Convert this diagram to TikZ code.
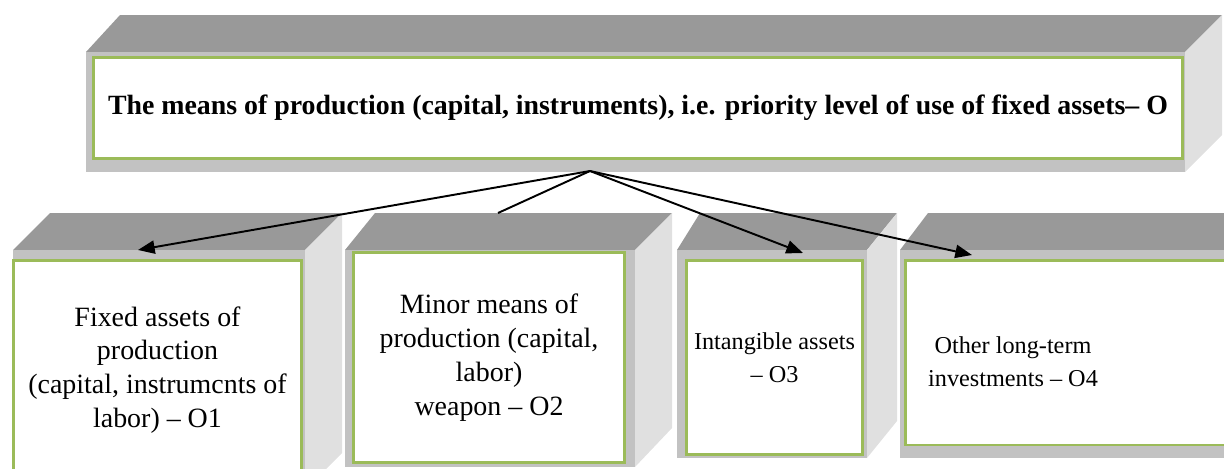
\documentclass[tikz,border=0pt]{standalone}
\usepackage{fontspec}
\setmainfont{Liberation Serif}
\usetikzlibrary{arrows.meta}
\definecolor{topgray}{RGB}{153,153,153}
\definecolor{sidegray}{RGB}{224,224,224}
\definecolor{frontgray}{RGB}{194,194,194}
\definecolor{boxgreen}{RGB}{155,187,89}
\tikzset{
  face/.style={fill=frontgray,draw=none,inner sep=0pt},
  greenbox/.style={draw=boxgreen,line width=1.7pt,fill=white,inner sep=0pt,align=center},
  lowtext/.style={align=center,font=\fontsize{15.9}{19.3}\selectfont},
  smalltext/.style={align=center,font=\fontsize{13.8}{18.8}\selectfont},
  link/.style={line width=1.1pt,-{Triangle[length=9.5pt,width=7.5pt]}}
}

\begin{document}
\begin{tikzpicture}[x=0.02cm,y=-0.02cm]
	\useasboundingbox (0,0) rectangle (1224,468);
	% top block
	\fill[topgray](86,52)--(120,15)--(1222,15)--(1185,52)--cycle;
	\fill[sidegray](1185,52)--(1222,15)--(1222,135)--(1185,172)--cycle;
	\node[face,minimum width=21.98cm,minimum height=2.4cm] (f0) at (635.5,112) {};
	\node[greenbox,minimum width=21.8cm,minimum height=2.02cm,font=\fontsize{15.85}{18}\selectfont\bfseries] (o) at (638,108)
		{The means of production (capital, instruments), i.e. priority level of use of fixed assets-- O};
	
	% lower blocks
	\fill[topgray](13,250)--(50,213)--(342,213)--(305,250)--cycle;
	\fill[sidegray](305,250)--(342,213)--(342,453)--(305,490)--cycle;
	\node[face,minimum width=5.84cm,minimum height=4.8cm] (f1) at (159,370) {};
	\node[greenbox,lowtext,minimum width=5.78cm,minimum height=4.4cm] (o1) at (157.5,370)
		{Fixed assets of\\production\\(capital, instrumcnts of\\labor) -- O1};
	
	\fill[topgray](345,250)--(375,213)--(672,213)--(635,250)--cycle;
	\fill[sidegray](635,250)--(672,213)--(672,428)--(635,467)--cycle;
	\node[face,minimum width=5.8cm,minimum height=4.34cm] (f2) at (490,358.5) {};
	\node[greenbox,lowtext,minimum width=5.44cm,minimum height=4.22cm] (o2) at (489,357.5)
		{Minor means of\\production (capital,\\labor)\\weapon -- O2};
	
	\fill[topgray](677,250)--(700,213)--(897,213)--(867,250)--cycle;
	\fill[sidegray](867,250)--(897,213)--(897,421)--(867,458)--cycle;
	\node[face,minimum width=3.8cm,minimum height=4.16cm] (f3) at (772,354) {};
	\node[greenbox,smalltext,minimum width=3.54cm,minimum height=3.9cm] (o3) at (774.5,357.5)
		{Intangible assets\\-- O3};
	
	\fill[topgray](900,250)--(928,213)--(1240,213)--(1230,250)--cycle;
	\node[face,minimum width=6.8cm,minimum height=4.16cm] (f4) at (1070,354) {};
	\node[greenbox,minimum width=6.7cm,minimum height=3.7cm] (o4) at (1072.5,352.5) {};
	\node[smalltext] (o4text) at (1013,362) {Other long-term\\investments -- O4};
	
	% links
	\coordinate (src) at (590,171);
	\coordinate (t1) at (138,250);
	\coordinate (t2) at (498,213);
	\coordinate (t3) at (803,253);
	\coordinate (t4) at (972,255);
	\draw[link](src)--(t1);
	\draw[line width=1.1pt](src)--(t2);
	\draw[link](src)--(t3);
	\draw[link](src)--(t4);
\end{tikzpicture}
\end{document}
